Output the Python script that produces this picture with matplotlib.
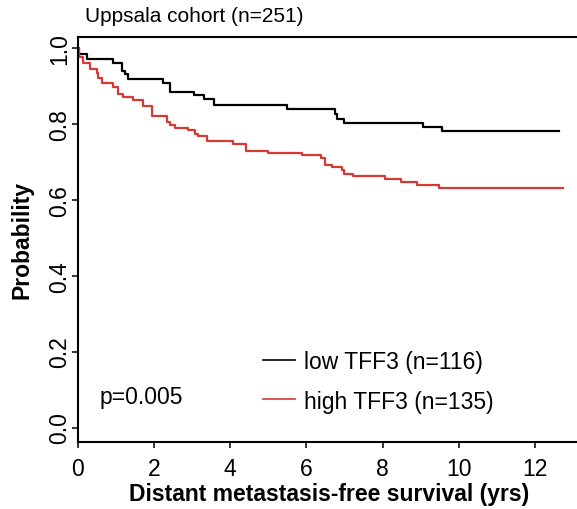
import numpy as np
import matplotlib
matplotlib.use("Agg")
import matplotlib.pyplot as plt
from matplotlib.lines import Line2D

plt.rcParams['font.family'] = ['Liberation Sans', 'DejaVu Sans']

# Kaplan-Meier steps
low_t = [0, 0.04, 0.24, 0.92, 1.15, 1.24, 1.33, 2.23, 2.42, 3.05, 3.31, 3.58,
         5.5, 6.75, 6.81, 6.99, 9.07, 9.57, 12.64]
low_s = [1.0, 0.985, 0.972, 0.961, 0.94, 0.931, 0.918, 0.907, 0.884, 0.876,
         0.865, 0.851, 0.838, 0.825, 0.814, 0.802, 0.792, 0.781, 0.781]

high_t = [0, 0.04, 0.15, 0.32, 0.5, 0.54, 0.63, 0.93, 1.07, 1.2,
          1.46, 1.72, 1.94, 2.34, 2.42, 2.55, 2.9, 3.08, 3.17, 3.4,
          4.08, 4.42, 5.0, 5.88, 6.38, 6.49, 6.67, 6.93, 6.99, 7.23,
          8.07, 8.48, 8.9, 9.47, 12.75]
high_s = [1.0, 0.977, 0.961, 0.945, 0.934, 0.92, 0.909, 0.896, 0.88, 0.87,
          0.862, 0.848, 0.822, 0.805, 0.796, 0.789, 0.783, 0.774, 0.768, 0.754,
          0.746, 0.729, 0.723, 0.718, 0.709, 0.693, 0.686, 0.678, 0.669, 0.663,
          0.655, 0.646, 0.639, 0.63, 0.63]

labels = ['low TFF3 (n=116)', 'high TFF3 (n=135)']
colors = ['black', '#d63a34']
xticks = [0, 2, 4, 6, 8, 10, 12]
yticks = [0.0, 0.2, 0.4, 0.6, 0.8, 1.0]

W, H = 577, 510
fs = 16.5
fig = plt.figure(figsize=(W / 100, H / 100), dpi=100)

# axes box in pixels: left 77.7, top 38, bottom 442.5, runs off the right edge
ax = fig.add_axes([77.7 / W, (H - 442.5) / H, 1 - 77.7 / W, (442.5 - 38) / H])

ax.step(low_t, low_s, where='post', color=colors[0], lw=1.6)
ax.step(high_t, high_s, where='post', color=colors[1], lw=1.6)

ax.set_xlim(0, (W - 77.7) / 38.1)
ax.set_ylim(-14 / 379.5, (428.5 - 38) / 379.5)
ax.set_xticks(xticks)
ax.set_xticklabels([str(v) for v in xticks])
ax.set_yticks(yticks)
ax.set_yticklabels(['%.1f' % v for v in yticks], rotation=90, va='center')

for s in ['left', 'bottom', 'top']:
    ax.spines[s].set_linewidth(1.5)
ax.spines['right'].set_visible(False)
ax.tick_params(axis='both', labelsize=fs, length=4.5, width=1.1, direction='out')
ax.tick_params(axis='x', pad=7)
ax.tick_params(axis='y', pad=0.5)

handles = [Line2D([], [], color=c, lw=1.2) for c in colors]
ax.legend(handles, labels, loc='upper left', frameon=False, fontsize=fs,
          bbox_to_anchor=(263 / W, 1 - 351 / H), bbox_transform=fig.transFigure,
          borderpad=0, borderaxespad=0, handlelength=1.38, handletextpad=0.4,
          labelspacing=0.72)

fig.text(100 / W, 1 - 398 / H, 'p=0.005', fontsize=fs, va='center', ha='left')
fig.text(85 / W, 1 - 17 / H, 'Uppsala cohort (n=251)', fontsize=15,
         va='center', ha='left')
fig.text(329 / W, 1 - 495 / H, 'Distant metastasis-free survival (yrs)',
         fontsize=fs, fontweight='bold', va='center', ha='center')
fig.text(22 / W, 1 - 240 / H, 'Probability', fontsize=fs, fontweight='bold',
         rotation=90, va='center', ha='center')

fig.savefig('out.png', dpi=100)
